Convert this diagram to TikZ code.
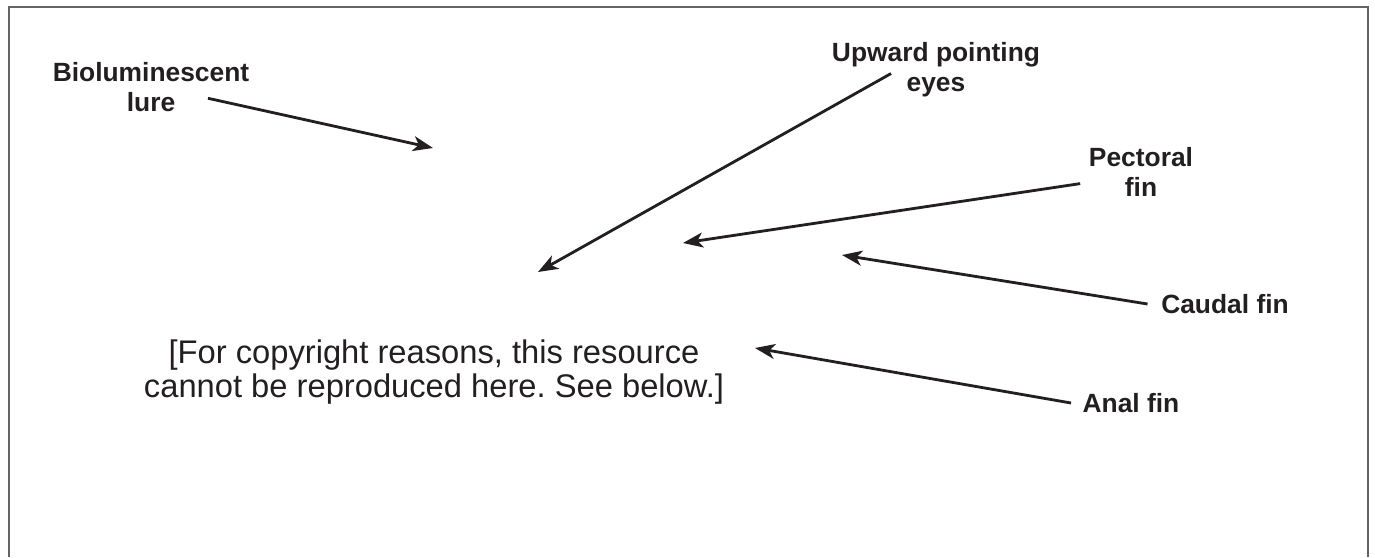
\documentclass[tikz,border=0pt]{standalone}
\usepackage{fontspec}
\setmainfont{Liberation Sans}
\usepackage{xcolor}
\usepackage{tikz}
\usetikzlibrary{arrows.meta}
\definecolor{ink}{RGB}{35,31,32}
\definecolor{framegray}{RGB}{100,100,100}
\frenchspacing

\begin{document}
\begin{tikzpicture}[x=0.01cm,y=-0.01cm,
     lbl/.style={font=\fontsize{7.5}{8.5}\selectfont\bfseries,text=ink,align=center,inner sep=0pt},
     ptr/.style={draw=ink,line width=0.8pt,-{Stealth[length=2mm,width=1.5mm,inset=0.55mm]}}]
   \useasboundingbox (0,0) rectangle (1375,557);
   \draw[framegray,line width=0.6pt] (9,557) -- (9,7) -- (1368,7) -- (1368,557);
   \node[font=\fontsize{9.3}{9.6}\selectfont,text=ink,align=center,inner sep=0pt] (note) at (434,372)
      {[For copyright reasons, this resource\\cannot be reproduced here. See below.]};
   \node[lbl] (lure) at (151,87) {Bioluminescent\\lure};
   \node[lbl] (eyes) at (936,70) {Upward pointing\\eyes};
   \node[lbl] (pec) at (1141,172) {Pectoral\\fin};
   \node[lbl] (caudal) at (1225,304) {Caudal fin};
   \node[lbl] (anal) at (1131,403) {Anal fin};
   \coordinate (lure-tip) at (433,148);
   \coordinate (eyes-tip) at (538,272);
   \coordinate (pec-tip) at (683,243);
   \coordinate (caudal-tip) at (842,255);
   \coordinate (anal-tip) at (755,348);
   \draw[ptr] ([xshift=16.2pt,yshift=4pt]lure.south) -- (lure-tip);
   \draw[ptr] ([xshift=17pt,yshift=-1pt]eyes.west) -- (eyes-tip);
   \draw[ptr] ([xshift=-2.3pt,yshift=-3.3pt]pec.west) -- (pec-tip);
   \draw[ptr] ([xshift=-3.7pt]caudal.west) -- (caudal-tip);
   \draw[ptr] ([xshift=-3.1pt]anal.west) -- (anal-tip);
\end{tikzpicture}
\end{document}
